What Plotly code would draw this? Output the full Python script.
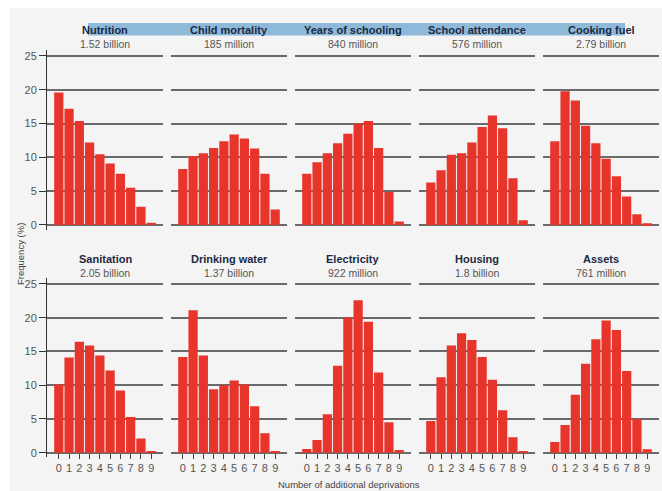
import plotly.graph_objects as go

# ---------------- data ----------------
deprivations = [0, 1, 2, 3, 4, 5, 6, 7, 8, 9]
tick_labels = ["0", "1", "2", "3", "4", "5", "6", "7", "8", "9"]
y_ticks = [0, 5, 10, 15, 20, 25]

titles = ["Nutrition", "Child mortality", "Years of schooling", "School attendance", "Cooking fuel",
          "Sanitation", "Drinking water", "Electricity", "Housing", "Assets"]
subtitles = ["1.52 billion", "185 million", "840 million", "576 million", "2.79 billion",
             "2.05 billion", "1.37 billion", "922 million", "1.8 billion", "761 million"]

nutrition = [19.6, 17.2, 15.4, 12.2, 10.45, 9.1, 7.6, 5.5, 2.7, 0.35]
child_mortality = [8.3, 10.2, 10.6, 11.4, 12.4, 13.4, 12.8, 11.3, 7.6, 2.3]
years_of_schooling = [7.6, 9.3, 10.6, 12.1, 13.5, 15.0, 15.4, 11.4, 4.9, 0.5]
school_attendance = [6.3, 8.1, 10.4, 10.6, 12.2, 14.5, 16.2, 14.3, 6.9, 0.7]
cooking_fuel = [12.4, 19.8, 18.4, 14.7, 12.1, 9.8, 7.2, 4.2, 1.6, 0.25]
sanitation = [10.1, 14.1, 16.45, 15.9, 14.4, 12.2, 9.2, 5.3, 2.1, 0.15]
drinking_water = [14.2, 21.1, 14.4, 9.4, 10.0, 10.7, 10.1, 6.9, 2.9, 0.25]
electricity = [0.55, 1.9, 5.7, 12.9, 20.0, 22.6, 19.4, 11.9, 4.5, 0.4]
housing = [4.7, 11.2, 15.9, 17.7, 16.7, 14.2, 10.8, 6.3, 2.3, 0.15]
assets = [1.6, 4.1, 8.6, 13.2, 16.8, 19.6, 18.2, 12.1, 5.0, 0.5]

series = [nutrition, child_mortality, years_of_schooling, school_attendance, cooking_fuel,
          sanitation, drinking_water, electricity, housing, assets]

# ---------------- styling ----------------
W, H = 662, 491
RED = "#e8352c"
GRID = "#6a6a6a"
TXT = "#555555"
NAVY = "#1c2a42"
FONT = "Liberation Sans Narrow, Liberation Sans, Arial, sans-serif"

fig = go.Figure()
layout = {}
annotations = []

rows_px = [  # (pixel of 25, pixel of 0)
    (56.0, 225.0),
    (284.0, 452.7),
]
title_y = [(30, 44), (259, 272.5)]

for k, vals in enumerate(series):
    row, col = divmod(k, 5)
    idx = k + 1
    xname = "x" if idx == 1 else f"x{idx}"
    yname = "y" if idx == 1 else f"y{idx}"
    xkey = "xaxis" if idx == 1 else f"xaxis{idx}"
    ykey = "yaxis" if idx == 1 else f"yaxis{idx}"

    fig.add_bar(x=deprivations, y=vals, xaxis=xname, yaxis=yname,
                marker=dict(color=RED, line=dict(width=0)), hoverinfo="x+y",
                showlegend=False)

    left = 47 + 124 * col
    right = left + 116
    p25, p0 = rows_px[row]
    ppu = (p0 - p25) / 25.0
    ylo, yhi = -0.7, 25.9
    top_px = p25 - (yhi - 25) * ppu
    bot_px = p0 + (0 - ylo) * ppu

    layout[xkey] = dict(
        domain=[left / W, right / W], range=[-1.15, 10.15],
        anchor="free", position=1 - p0 / H,
        showgrid=False, zeroline=False, showline=False,
        tickmode="array", tickvals=deprivations, ticktext=tick_labels,
        showticklabels=(row == 1), ticks="outside" if row == 1 else "",
        ticklen=5, tickwidth=1, tickcolor="#444444",
        tickfont=dict(family=FONT, size=11, color=TXT),
    )
    layout[ykey] = dict(
        domain=[1 - bot_px / H, 1 - top_px / H], range=[ylo, yhi],
        anchor=xname, tickmode="array", tickvals=y_ticks,
        showgrid=True, gridcolor=GRID, gridwidth=1.5, zeroline=False,
        showline=(col == 0), linecolor="#333333", linewidth=1,
        showticklabels=(col == 0), ticks="outside" if col == 0 else "",
        ticklen=7, tickwidth=1, tickcolor="#333333",
        tickfont=dict(family=FONT, size=11, color=TXT),
    )

    cx = (left + right) / 2 / W
    ty, sy = title_y[row]
    annotations.append(dict(x=cx, y=1 - ty / H, xref="paper", yref="paper",
                            text=f"<b>{titles[k]}</b>", showarrow=False,
                            font=dict(family=FONT, size=11, color=NAVY),
                            xanchor="center", yanchor="middle"))
    annotations.append(dict(x=cx, y=1 - sy / H, xref="paper", yref="paper",
                            text=subtitles[k], showarrow=False,
                            font=dict(family=FONT, size=10.5, color=TXT),
                            xanchor="center", yanchor="middle"))

annotations.append(dict(x=349 / W, y=1 - 484 / H, xref="paper", yref="paper",
                        text="Number of additional deprivations", showarrow=False,
                        font=dict(family=FONT, size=9.5, color="#444444"),
                        xanchor="center", yanchor="middle"))
annotations.append(dict(x=20 / W, y=1 - 254 / H, xref="paper", yref="paper",
                        text="Frequency (%)", showarrow=False, textangle=-90,
                        font=dict(family=FONT, size=9.5, color="#444444"),
                        xanchor="center", yanchor="middle"))

shapes = [
    dict(type="rect", xref="paper", yref="paper", x0=10 / W, x1=1, y0=0, y1=1 - 8 / H,
         fillcolor="#f4f4f4", line=dict(width=0), layer="below"),
    dict(type="rect", xref="paper", yref="paper", x0=88 / W, x1=625 / W,
         y0=1 - 35.5 / H, y1=1 - 23 / H,
         fillcolor="#8fb9d9", line=dict(width=0), layer="below"),
]

fig.update_layout(
    width=W, height=H, margin=dict(l=0, r=0, t=0, b=0),
    paper_bgcolor="white", plot_bgcolor="rgba(0,0,0,0)",
    bargap=0.1, showlegend=False,
    annotations=annotations, shapes=shapes,
    font=dict(family=FONT),
    **layout,
)

fig.write_html("out.html")
